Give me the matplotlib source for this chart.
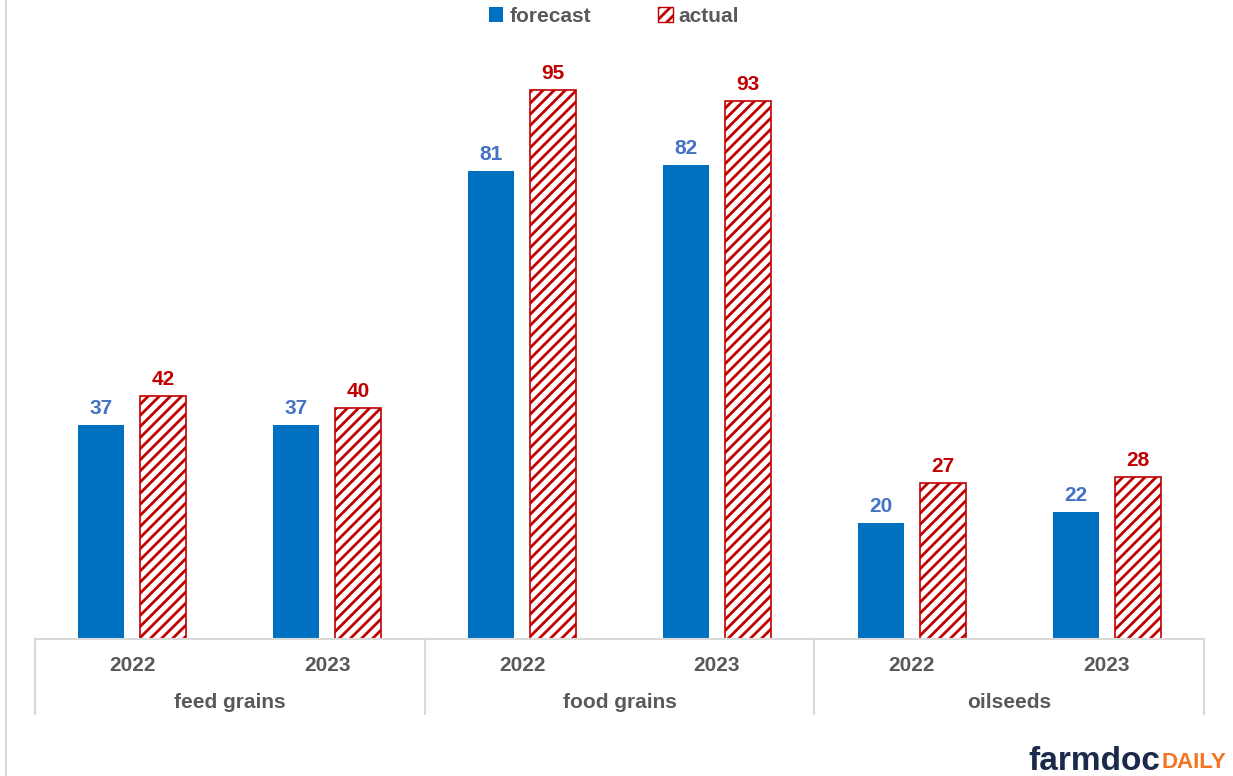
import matplotlib
matplotlib.use("Agg")
import matplotlib.pyplot as plt
import matplotlib.patches as mpatches
from matplotlib.lines import Line2D
import numpy as np

plt.rcParams['font.family'] = ['Liberation Sans', 'DejaVu Sans']
plt.rcParams['hatch.linewidth'] = 2.0
plt.rcParams['hatch.color'] = '#C00000'

groups = ['feed grains', 'food grains', 'oilseeds']
years = ['2022', '2023', '2022', '2023', '2022', '2023']
forecast = [37, 37, 81, 82, 20, 22]
actual = [42, 40, 95, 93, 27, 28]

blue = '#0070C0'
blue_lab = '#4472C4'
red = '#C00000'
grey_txt = '#595959'
grey_line = '#D9D9D9'

fig = plt.figure(figsize=(12.33, 7.76), dpi=100)
ax = fig.add_axes([35 / 1233, 137 / 776, 1169 / 1233, 639 / 776])

x = np.arange(len(years))
off = 0.159
w = 0.236
b1 = ax.bar(x - off, forecast, w, color=blue, label='forecast')
b2 = ax.bar(x + off, actual, w, color='white', edgecolor=red, linewidth=1.2,
            hatch='///', label='actual')

for r, v in zip(b1, forecast):
    ax.annotate(str(v), (r.get_x() + r.get_width() / 2, v), xytext=(0, 5),
                textcoords='offset points', ha='center', va='bottom',
                fontsize=15, fontweight='bold', color=blue_lab)
for r, v in zip(b2, actual):
    ax.annotate(str(v), (r.get_x() + r.get_width() / 2, v), xytext=(0, 5),
                textcoords='offset points', ha='center', va='bottom',
                fontsize=15, fontweight='bold', color=red)

ax.set_xlim(-0.5, len(years) - 0.5)
ax.set_ylim(0, 110.5)
ax.set_yticks([])
ax.set_xticks(x)
ax.set_xticklabels(years, fontsize=15, fontweight='bold', color=grey_txt)
ax.tick_params(axis='x', length=0, pad=12)
for s in ['top', 'right', 'left']:
    ax.spines[s].set_visible(False)
ax.spines['bottom'].set_color(grey_line)
ax.spines['bottom'].set_linewidth(1.5)

# group separators and labels
trans = ax.get_xaxis_transform()
for b in np.arange(-0.5, len(years), 2):
    ax.plot([b, b], [0, -75 / 639], transform=trans, color=grey_line,
            lw=1.5, clip_on=False)
for i, g in enumerate(groups):
    ax.text(2 * i + 0.5, -64 / 639, g, transform=trans, ha='center',
            va='center', fontsize=15, fontweight='bold', color=grey_txt)

# outer border line on left
fig.add_artist(Line2D([6 / 1233, 6 / 1233], [0, 1], color=grey_line, lw=1.5))

h1 = mpatches.Patch(facecolor=blue, label='forecast')
h2 = mpatches.Patch(facecolor='white', edgecolor=red, hatch='///', label='actual')
fig.legend(handles=[h1, h2], loc='center', bbox_to_anchor=(0.498, 1 - 16 / 776),
           ncol=2, frameon=False, handlelength=0.7, handleheight=0.7,
           handletextpad=0.3, columnspacing=3.2,
           prop={'size': 15, 'weight': 'bold'}, labelcolor=grey_txt)

# logo
t = fig.text(1028 / 1233, 15 / 776, 'farmdoc', fontsize=24, fontweight='bold',
             color='#1B2A4A', ha='left', va='center')
fig.canvas.draw()
bb = t.get_window_extent()
fig.text(bb.x1 / 1233 + 0.001, 14 / 776, 'DAILY', fontsize=16, fontweight='bold',
         color='#F47321', ha='left', va='center')

fig.savefig('out.png', dpi=100, facecolor='white')
